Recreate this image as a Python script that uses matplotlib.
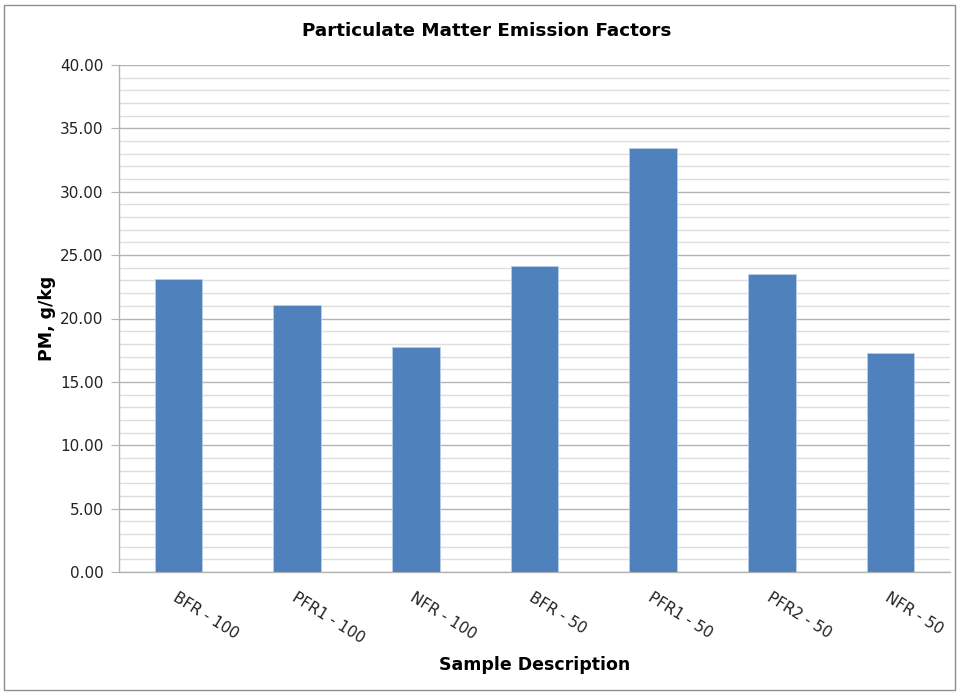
import matplotlib.pyplot as plt
import numpy as np
from matplotlib.patches import Rectangle

samples = ['BFR - 100', 'PFR1 - 100', 'NFR - 100', 'BFR - 50', 'PFR1 - 50', 'PFR2 - 50', 'NFR - 50']
pm_values = [23.1, 21.05, 17.72, 24.12, 33.48, 23.53, 17.26]

plt.rcParams['font.family'] = ['DejaVu Sans']

fig = plt.figure(figsize=(9.59, 6.96), dpi=100)
ax = fig.add_axes([119/959, 1 - 572/696, (950 - 119)/959, (572 - 65)/696])

# outer chart border
fig.patches.append(Rectangle((4/959, 6/696), 951/959, 685/696, transform=fig.transFigure,
                             fill=False, edgecolor='#8c8c8c', linewidth=1.0))

x = np.arange(len(samples)) + 0.5
ax.bar(x, pm_values, width=0.40, color='#4f81bd', edgecolor='#b9cde5', linewidth=0.6, zorder=3)

ax.set_xlim(0, len(samples))
ax.set_ylim(0, 40)
ax.set_yticks(np.arange(0, 41, 5))
ax.set_yticklabels([f'{v:.2f}' for v in np.arange(0, 41, 5)], fontsize=11, color='#222222')
ax.set_yticks(np.arange(0, 41, 1), minor=True)
ax.grid(axis='y', which='major', color='#b3b3b3', linewidth=1.0, zorder=0)
ax.grid(axis='y', which='minor', color='#dedede', linewidth=1.0, zorder=0)
ax.tick_params(axis='y', which='major', length=6, color='#b3b3b3', pad=5)
ax.tick_params(axis='y', which='minor', length=0)

ax.set_xticks(x)
ax.set_xticklabels(samples, rotation=-32, ha='left', va='top', rotation_mode='anchor',
                   fontsize=11, color='#222222')
ax.tick_params(axis='x', length=0, pad=13)
for lbl in ax.get_xticklabels():
    lbl.set_x(lbl.get_position()[0])

for s in ['top', 'right']:
    ax.spines[s].set_visible(False)
for s in ['left', 'bottom']:
    ax.spines[s].set_color('#b3b3b3')
    ax.spines[s].set_linewidth(1.0)

fig.text(487/959, 1 - 31/696, 'Particulate Matter Emission Factors', ha='center', va='center',
         fontsize=13.2, fontweight='bold')
fig.text(535/959, 1 - 665/696, 'Sample Description', ha='center', va='center',
         fontsize=12.5, fontweight='bold')
fig.text(47/959, 1 - 318/696, 'PM, g/kg', ha='center', va='center', rotation=90,
         fontsize=12.5, fontweight='bold')

fig.savefig('out.png', dpi=100)
